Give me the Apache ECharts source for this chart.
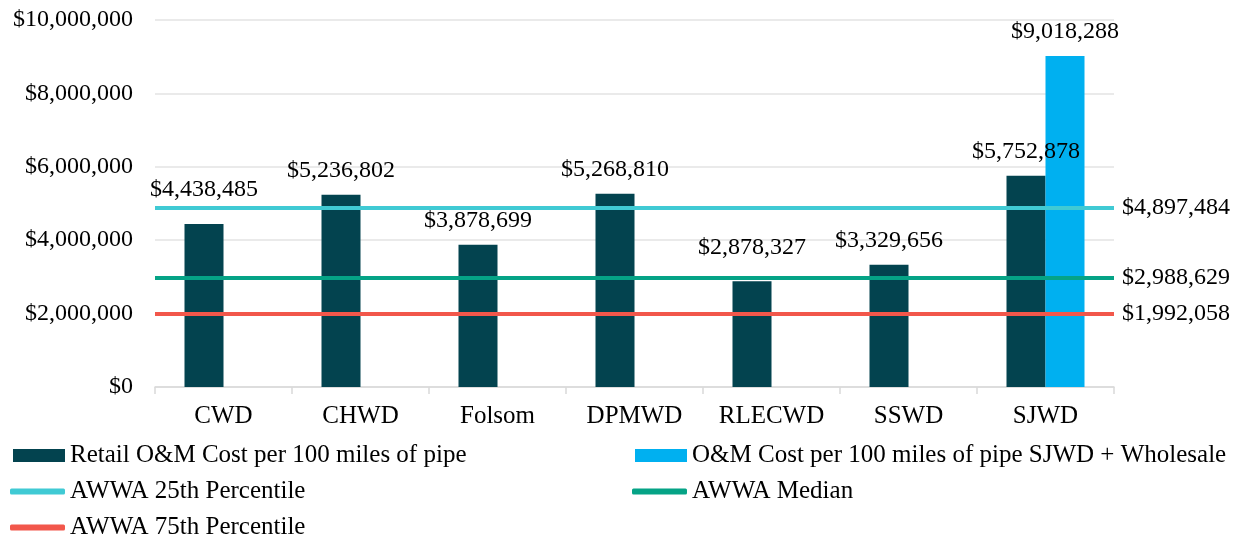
<!DOCTYPE html>
<html>
<head>
<meta charset="utf-8">
<script src="https://cdn.jsdelivr.net/npm/echarts@6/dist/echarts.min.js"></script>
<style>
  html, body { margin: 0; padding: 0; background: #fff; }
  #main { width: 1245px; height: 540px; }
</style>
</head>
<body>
<div id="main"></div>
<script>
// data
const categories = ['CWD', 'CHWD', 'Folsom', 'DPMWD', 'RLECWD', 'SSWD', 'SJWD'];
const retailCost = [4438485, 5236802, 3878699, 5268810, 2878327, 3329656, 5752878];
const wholesaleCost = [null, null, null, null, null, null, 9018288];
const awwa25th = 4897484;
const awwaMedian = 2988629;
const awwa75th = 1992058;
const yMin = 0, yMax = 10000000, yStep = 2000000;

const FONT = 'Liberation Serif';
const money = v => '$' + Math.round(v).toLocaleString('en-US');

// labels that sit a bit higher in the original (to clear the lines)
const raised = [0, 4];

let myChart = echarts.init(document.getElementById('main'));

const barLabel = {
  show: true,
  position: 'top',
  distance: 12,
  color: '#000',
  fontFamily: FONT,
  fontSize: 24,
  formatter: p => money(p.value)
};

const refLine = (name, value, color) => ({
  name: name,
  type: 'line',
  data: [],
  color: color,
  z: 5,
  markLine: {
    silent: true,
    symbol: 'none',
    lineStyle: { color: color, width: 4, type: 'solid' },
    label: {
      position: 'end',
      distance: 8,
      color: '#000',
      fontFamily: FONT,
      fontSize: 24,
      formatter: () => money(value)
    },
    data: [{ yAxis: value }]
  }
});

const legendBase = {
  selectedMode: false,
  padding: 0,
  textStyle: { fontFamily: FONT, fontSize: 25, color: '#000' }
};
const barIcon = { icon: 'rect', itemWidth: 52, itemHeight: 13 };
const lineIcon = { icon: 'roundRect', itemWidth: 55, itemHeight: 6 };

myChart.setOption({
  animation: false,
  textStyle: { fontFamily: FONT },
  grid: { left: 155, right: 131, top: 20, bottom: 153 },
  legend: [
    Object.assign({ data: ['Retail O&M Cost per 100 miles of pipe'], left: 13, top: 443 }, barIcon, legendBase),
    Object.assign({ data: ['O&M Cost per 100 miles of pipe SJWD + Wholesale'], left: 635, top: 443 }, barIcon, legendBase),
    Object.assign({ data: ['AWWA 25th Percentile'], left: 10, top: 479 }, lineIcon, legendBase),
    Object.assign({ data: ['AWWA Median'], left: 632, top: 479 }, lineIcon, legendBase),
    Object.assign({ data: ['AWWA 75th Percentile'], left: 10, top: 515 }, lineIcon, legendBase)
  ],
  xAxis: {
    type: 'category',
    data: categories,
    axisLine: { lineStyle: { color: '#d9d9d9', width: 1.5 } },
    axisTick: { show: true, length: 7, lineStyle: { color: '#d9d9d9', width: 1.5 } },
    axisLabel: { interval: 0, color: '#000', fontFamily: FONT, fontSize: 25, margin: 17 }
  },
  yAxis: {
    type: 'value',
    min: yMin,
    max: yMax,
    interval: yStep,
    axisLine: { show: false },
    axisTick: { show: false },
    splitLine: { lineStyle: { color: '#e3e3e3', width: 1.5 } },
    axisLabel: { color: '#000', fontFamily: FONT, fontSize: 24, margin: 22, formatter: money }
  },
  series: [
    {
      name: 'Retail O&M Cost per 100 miles of pipe',
      type: 'bar',
      barWidth: 39,
      barGap: '0%',
      color: '#03434f',
      label: barLabel,
      data: retailCost.map((v, i) => raised.includes(i) ? { value: v, label: { distance: 22 } } : v)
    },
    {
      name: 'O&M Cost per 100 miles of pipe SJWD + Wholesale',
      type: 'bar',
      barWidth: 39,
      barGap: '0%',
      color: '#00b0f0',
      label: barLabel,
      data: wholesaleCost
    },
    refLine('AWWA 25th Percentile', awwa25th, '#40cad4'),
    refLine('AWWA Median', awwaMedian, '#05a386'),
    refLine('AWWA 75th Percentile', awwa75th, '#f2574b')
  ]
});
</script>
</body>
</html>
